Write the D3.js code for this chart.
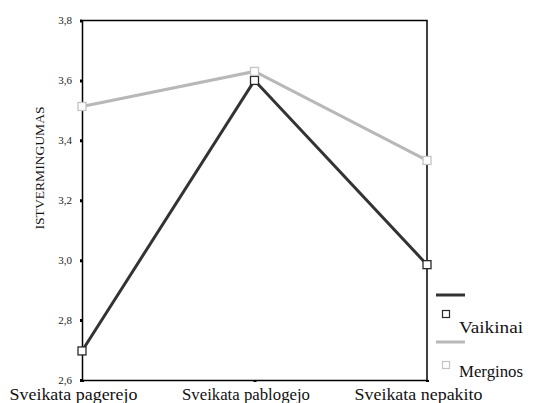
<!DOCTYPE html>
<html>
<head>
<meta charset="utf-8">
<script src="https://cdn.jsdelivr.net/npm/d3@7"></script>
<style>
  html, body { margin: 0; padding: 0; background: #fff; }
  svg { display: block; }
  #chart text { font-family: "Liberation Serif", serif !important; }
</style>
</head>
<body>
<svg id="chart" width="534" height="403"></svg>
<script>
// ---- data ----
const categories = ["Sveikata pagerejo", "Sveikata pablogejo", "Sveikata nepakito"];
const vaikinai = [2.697, 3.600, 2.985];
const merginos = [3.513, 3.630, 3.333];
const seriesNames = ["Vaikinai", "Merginos"];
const yTicks = [2.6, 2.8, 3.0, 3.2, 3.4, 3.6, 3.8];
const yTickLabels = ["2,6", "2,8", "3,0", "3,2", "3,4", "3,6", "3,8"];
const yTitle = "ISTVERMINGUMAS";

const FONT = "Liberation Serif";
const colors = { Vaikinai: "#333333", Merginos: "#b8b8b8" };
const markerColors = { Vaikinai: "#2a2a2a", Merginos: "#c4c4c4" };

const svg = d3.select("#chart");
const mLeft = 82, mRight = 427, mTop = 20.5, mBottom = 380;

const x = d3.scalePoint().domain(categories).range([mLeft, mRight]).padding(0);
const y = d3.scaleLinear().domain([2.6, 3.8]).range([mBottom, mTop]);

// frame (top & right)
svg.append("path")
  .attr("d", `M${mLeft},${mTop}H${mRight}V${mBottom}`)
  .attr("fill", "none").attr("stroke", "#000").attr("stroke-width", 1.5);

// y axis
const yAxis = d3.axisLeft(y).tickValues(yTicks)
  .tickFormat((d, i) => yTickLabels[i]).tickSize(2).tickPadding(8);
const gy = svg.append("g").attr("transform", `translate(${mLeft},0)`)
  .call(yAxis).attr("font-family", FONT);
gy.select(".domain").attr("stroke", "#000").attr("stroke-width", 1.5);
gy.selectAll(".tick line").attr("stroke", "#000").attr("stroke-width", 3);
gy.selectAll(".tick text").attr("font-size", 11).attr("fill", "#222")
  .attr("font-family", FONT).attr("dy", "0.28em");

// x axis
const xAxis = d3.axisBottom(x).tickSize(2).tickPadding(6);
const gx = svg.append("g").attr("transform", `translate(0,${mBottom})`)
  .call(xAxis).attr("font-family", FONT);
gx.select(".domain").attr("stroke", "#000").attr("stroke-width", 1.5);
gx.selectAll(".tick line").attr("stroke", "#000").attr("stroke-width", 3);
gx.selectAll(".tick text").attr("font-size", 16.5).attr("fill", "#111")
  .attr("font-family", FONT)
  .attr("dx", -9)
  .attr("textLength", 128).attr("lengthAdjust", "spacingAndGlyphs");

// y title
svg.append("text")
  .attr("transform", `translate(44,168) rotate(-90)`)
  .attr("text-anchor", "middle")
  .attr("font-size", 13)
  .attr("font-family", FONT)
  .attr("fill", "#111")
  .attr("textLength", 123).attr("lengthAdjust", "spacingAndGlyphs")
  .text(yTitle);

// lines
const seriesData = [
  { name: "Vaikinai", values: vaikinai },
  { name: "Merginos", values: merginos }
];
const line = d3.line().x((d, i) => x(categories[i])).y(d => y(d));

seriesData.forEach(s => {
  svg.append("path").datum(s.values)
    .attr("d", line)
    .attr("fill", "none")
    .attr("stroke", colors[s.name])
    .attr("stroke-width", 3)
    .attr("stroke-linejoin", "miter");
});
seriesData.forEach(s => {
  svg.selectAll(null).data(s.values).enter().append("rect")
    .attr("x", (d, i) => x(categories[i]) - 4)
    .attr("y", d => y(d) - 4)
    .attr("width", 8).attr("height", 8)
    .attr("fill", "#fff")
    .attr("stroke", markerColors[s.name])
    .attr("stroke-width", 1.3);
});

// legend
const legend = svg.append("g").attr("font-family", FONT);
const legendRows = [
  { name: seriesNames[0], lineY: 295, boxY: 314, textY: 333 },
  { name: seriesNames[1], lineY: 342, boxY: 365, textY: 377 }
];
legendRows.forEach(r => {
  legend.append("line")
    .attr("x1", 436).attr("x2", 465).attr("y1", r.lineY).attr("y2", r.lineY)
    .attr("stroke", colors[r.name]).attr("stroke-width", 3);
  legend.append("rect")
    .attr("x", 446 - 3.5).attr("y", r.boxY - 3.5).attr("width", 7).attr("height", 7)
    .attr("fill", "#fff").attr("stroke", markerColors[r.name]).attr("stroke-width", 1.2);
  legend.append("text")
    .attr("x", 459).attr("y", r.textY)
    .attr("font-size", 16.5).attr("fill", "#111")
    .attr("font-family", FONT)
    .attr("textLength", 64).attr("lengthAdjust", "spacingAndGlyphs")
    .text(r.name);
});
</script>
</body>
</html>
